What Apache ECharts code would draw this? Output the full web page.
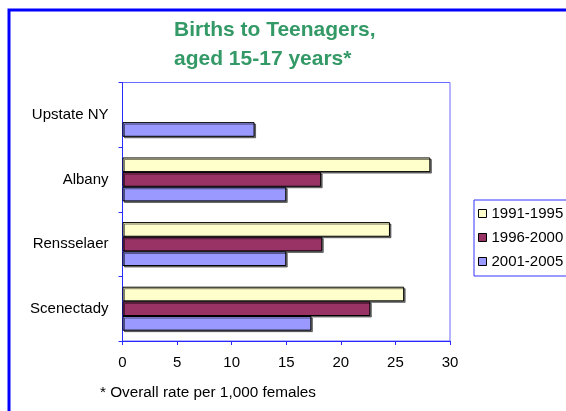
<!DOCTYPE html>
<html>
<head>
<meta charset="utf-8">
<script src="https://cdn.jsdelivr.net/npm/echarts@6/dist/echarts.min.js"></script>
<style>
  html, body { margin: 0; padding: 0; background: #fff; }
  #main { width: 566px; height: 411px; }
</style>
</head>
<body>
<div id="main"></div>
<script>
// data
var places = ['Upstate NY', 'Albany', 'Rensselaer', 'Scenectady'];
var periods = ['1991-1995', '1996-2000', '2001-2005'];
var rate1991 = [null, 28.2, 24.5, 25.8];
var rate1996 = [null, 18.2, 18.3, 22.7];
var rate2001 = [12.1, 15.0, 15.0, 17.3];
var xTicks = [0, 5, 10, 15, 20, 25, 30];

var colors = ['#ffffcc', '#993366', '#9999ff'];
var font = '"Liberation Sans", Arial, sans-serif';

var chart = echarts.init(document.getElementById('main'));

function barSeries(name, data, color) {
    return {
        name: name,
        type: 'bar',
        data: data,
        barGap: 0,
        barCategoryGap: '32%',
        itemStyle: {
            color: color,
            borderColor: '#000',
            borderWidth: 1,
            shadowColor: 'rgba(0,0,0,0.5)',
            shadowOffsetX: 1.5,
            shadowOffsetY: 1.5,
            shadowBlur: 0
        },
        emphasis: { disabled: true }
    };
}

var option = {
    animation: false,
    backgroundColor: '#fff',
    textStyle: { fontFamily: font },
    title: {
        text: 'Births to Teenagers,\naged 15-17 years*',
        left: 169,
        top: 11,
        textStyle: {
            color: '#339966',
            fontSize: 21,
            fontWeight: 'bold',
            fontFamily: font,
            lineHeight: 29
        }
    },
    legend: {
        orient: 'vertical',
        left: 474,
        top: 200,
        padding: [6, 20, 7, 4],
        itemGap: 9,
        itemWidth: 8,
        itemHeight: 8,
        icon: 'rect',
        borderColor: '#3333ff',
        borderWidth: 1,
        data: periods,
        itemStyle: { borderColor: '#000', borderWidth: 1, shadowColor: 'transparent' },
        textStyle: { fontSize: 15, color: '#000', fontFamily: font }
    },
    grid: {
        left: 122.5,
        right: 116,
        top: 82.5,
        bottom: 70,
        show: true,
        borderColor: '#6a6aff',
        borderWidth: 1
    },
    xAxis: {
        type: 'value',
        min: xTicks[0],
        max: xTicks[xTicks.length - 1],
        interval: 5,
        axisLine: { show: true, lineStyle: { color: '#2a2aff', width: 1 } },
        axisTick: { show: true, length: 4, lineStyle: { color: '#2a2aff' } },
        axisLabel: { color: '#000', fontSize: 15, margin: 14, fontFamily: font },
        splitLine: { show: false }
    },
    yAxis: {
        type: 'category',
        inverse: true,
        data: places,
        axisLine: { show: true, lineStyle: { color: '#2a2aff', width: 1 } },
        axisTick: { show: true, length: 4, lineStyle: { color: '#2a2aff' } },
        axisLabel: { color: '#000', fontSize: 15, margin: 14, fontFamily: font }
    },
    series: [
        barSeries(periods[0], rate1991, colors[0]),
        barSeries(periods[1], rate1996, colors[1]),
        barSeries(periods[2], rate2001, colors[2])
    ],
    graphic: [
        {
            type: 'rect',
            silent: true,
            shape: { x: 9, y: 10, width: 800, height: 600 },
            style: { fill: 'none', stroke: '#0000ff', lineWidth: 3 }
        },
        {
            type: 'text',
            left: 100,
            top: 385,
            style: { text: '* Overall rate per 1,000 females', fill: '#000', font: '15.3px ' + font }
        }
    ]
};

chart.setOption(option);
</script>
</body>
</html>
